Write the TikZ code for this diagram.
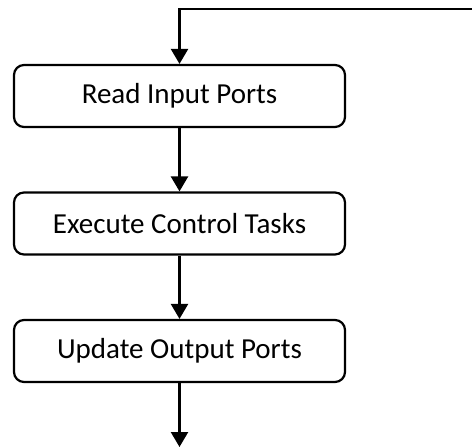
\documentclass[tikz,border=0pt]{standalone}
\usepackage{fontspec}
\setmainfont{Carlito}
\usetikzlibrary{arrows.meta}
\begin{document}
\begin{tikzpicture}[x=1pt,y=-1pt,
  stepbox/.style={draw, line width=2.2pt, rounded corners=10pt,
    minimum width=331pt, minimum height=62pt, inner sep=0pt,
    font=\fontsize{29}{34}\selectfont},
  flow/.style={line width=2.4pt, -{Triangle[width=17pt,length=15pt]}}]
\useasboundingbox (0,0) rectangle (472,447);
\node[stepbox] (read) at (179.5,96) {Read Input Ports};
\node[stepbox] (exec) at (179.5,223.5) {Execute Control Tasks};
\node[stepbox] (upd) at (179.5,351) {Update Output Ports};
\coordinate (loopin) at (472,9);
\coordinate (out) at (179.5,447);
\draw[flow] (loopin) -| (read.north);
\draw[flow] (read) -- (exec);
\draw[flow] (exec) -- (upd);
\draw[flow] (upd) -- (out);
\end{tikzpicture}
\end{document}
